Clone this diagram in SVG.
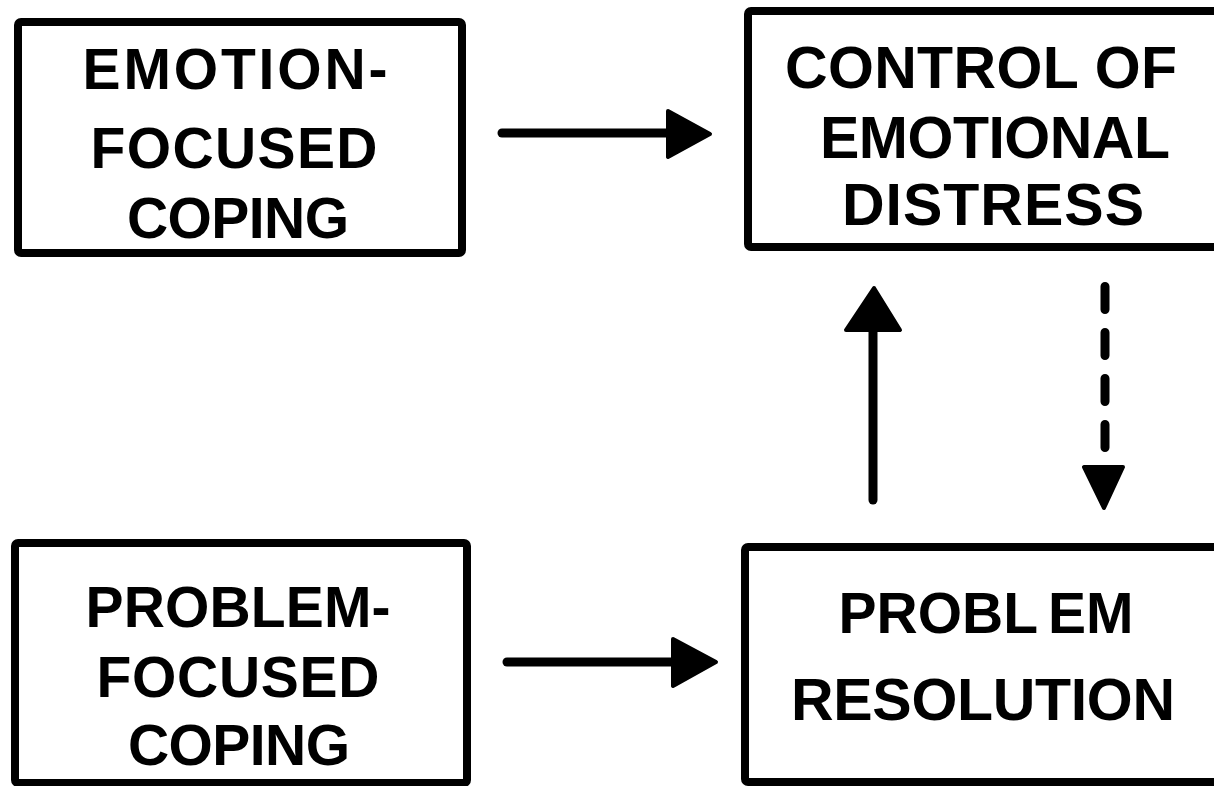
<svg xmlns="http://www.w3.org/2000/svg" width="1214" height="786" viewBox="0 0 1214 786">
<style>
.box{fill:#fff;stroke:#000;stroke-width:8;stroke-linejoin:round}
.lbl{font-family:"Liberation Sans",Arial,sans-serif;font-weight:bold;fill:#000;text-anchor:middle}
.shaft{stroke:#000;stroke-width:9;fill:none;stroke-linecap:round}
.dash{stroke:#000;stroke-width:9;fill:none;stroke-linecap:round;stroke-dasharray:23 23}
.head{fill:#000;stroke:#000;stroke-width:4;stroke-linejoin:round}
</style>
<rect width="1214" height="786" fill="#fff"/>
<g id="emotion-focused-coping">
<rect class="box" x="18" y="22" width="444" height="231" rx="3"/>
<text class="lbl" font-size="57"><tspan x="235" y="89" textLength="305" lengthAdjust="spacing">EMOTION-</tspan></text>
<text class="lbl" font-size="57"><tspan x="234" y="168" textLength="287" lengthAdjust="spacing">FOCUSED</tspan></text>
<text class="lbl" font-size="57"><tspan x="238" y="238" textLength="222" lengthAdjust="spacing">COPING</tspan></text>
</g>
<g id="control-of-emotional-distress">
<rect class="box" x="748" y="11" width="500" height="236" rx="3"/>
<text class="lbl" font-size="59"><tspan x="981" y="88" textLength="392" lengthAdjust="spacing">CONTROL OF</tspan></text>
<text class="lbl" font-size="59"><tspan x="995" y="158" textLength="350" lengthAdjust="spacing">EMOTIONAL</tspan></text>
<text class="lbl" font-size="59"><tspan x="993" y="225" textLength="302" lengthAdjust="spacing">DISTRESS</tspan></text>
</g>
<g id="problem-focused-coping">
<rect class="box" x="15" y="543" width="452" height="240" rx="3"/>
<text class="lbl" font-size="57"><tspan x="238" y="627" textLength="305" lengthAdjust="spacing">PROBLEM-</tspan></text>
<text class="lbl" font-size="57"><tspan x="238" y="697" textLength="283" lengthAdjust="spacing">FOCUSED</tspan></text>
<text class="lbl" font-size="57"><tspan x="239" y="765" textLength="222" lengthAdjust="spacing">COPING</tspan></text>
</g>
<g id="problem-resolution">
<rect class="box" x="745" y="547" width="500" height="235" rx="3"/>
<text class="lbl" font-size="57" x="986" y="633">PROBL<tspan dx="10">EM</tspan></text>
<text class="lbl" font-size="59"><tspan x="983" y="720" textLength="384" lengthAdjust="spacing">RESOLUTION</tspan></text>
</g>
<g id="connectors">
<line class="shaft" x1="502" y1="133" x2="670" y2="133"/>
<polygon class="head" points="668,111 710,134 668,157"/>
<line class="shaft" x1="507" y1="662" x2="675" y2="662"/>
<polygon class="head" points="673,639 716,662 673,686"/>
<line class="shaft" x1="873" y1="500" x2="873" y2="332"/>
<polygon class="head" points="846,330 874,288 900,330"/>
<line class="dash" x1="1105" y1="286.5" x2="1105" y2="460"/>
<polygon class="head" points="1084,467 1123,467 1104,508"/>
</g>
</svg>
